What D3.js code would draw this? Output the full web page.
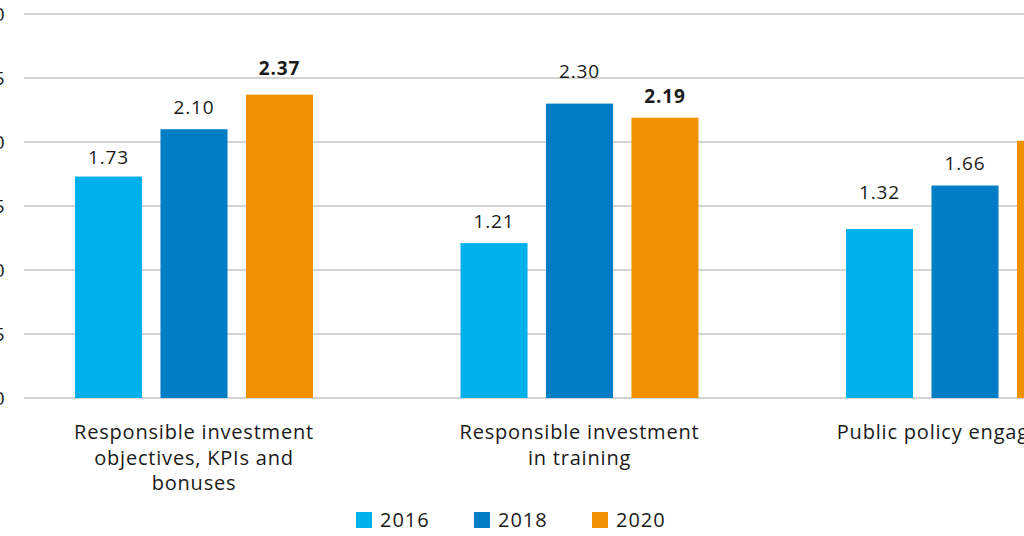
<!DOCTYPE html>
<html>
<head>
<meta charset="utf-8">
<style>
  html, body { margin: 0; padding: 0; background: #fff; }
  svg { display: block; }
  text { font-family: "Open Sans", sans-serif; fill: #1a1a1a; }
  .grid line { stroke: #c4c4c4; stroke-width: 1.5; }
</style>
<script src="https://cdn.jsdelivr.net/npm/d3@7"></script>
</head>
<body>
<div id="chart"></div>
<script>
  // data
  var categories = [
    ["Responsible investment", "objectives, KPIs and", "bonuses"],
    ["Responsible investment", "in training"],
    ["Public policy engagement"]
  ];
  var years = ["2016", "2018", "2020"];
  var values2016 = [1.73, 1.21, 1.32];
  var values2018 = [2.10, 2.30, 1.66];
  var values2020 = [2.37, 2.19, 2.01];
  var yTicks = [0, 0.5, 1, 1.5, 2, 2.5, 3];
  var colors = ["#00b0ea", "#007dc5", "#f29100"];

  // the labels above the bars are hand placed in the original, lift per year / category
  var labelLift = [[13, 15, 20], [15, 26, 15], [30, 16, 16]];

  var series = [values2016, values2018, values2020];
  var width = 1024, height = 536;

  var svg = d3.select('#chart').append('svg')
    .attr('width', width)
    .attr('height', height);

  var y = d3.scaleLinear().domain([0, 3]).range([398, 14]);

  var x0 = d3.scaleBand()
    .domain(d3.range(categories.length))
    .range([1.25, 1157.75]);

  var x1 = d3.scaleBand()
    .domain(years)
    .range([-119, 119])
    .paddingInner(0.216);

  var center = i => x0(i) + x0.bandwidth() / 2;

  // grid + y labels
  var grid = svg.append('g').attr('class', 'grid');
  grid.selectAll('line')
    .data(yTicks)
    .enter().append('line')
    .attr('x1', 24)
    .attr('x2', width)
    .attr('y1', d => y(d))
    .attr('y2', d => y(d));

  svg.append('g').selectAll('text')
    .data(yTicks)
    .enter().append('text')
    .attr('x', -22)
    .attr('y', d => y(d))
    .attr('dy', '0.35em')
    .style('font-size', '19px')
    .text(d => d3.format('.1f')(d));

  // bars
  var groups = svg.append('g').selectAll('g')
    .data(categories)
    .enter().append('g')
    .attr('transform', (d, i) => `translate(${center(i)},0)`);

  groups.each(function(cat, i) {
    var g = d3.select(this);
    var rows = years.map((yr, k) => ({year: yr, value: series[k][i], k: k}));

    g.selectAll('rect')
      .data(rows)
      .enter().append('rect')
      .attr('x', d => x1(d.year))
      .attr('width', x1.bandwidth())
      .attr('y', d => y(d.value))
      .attr('height', d => y(0) - y(d.value))
      .attr('fill', d => colors[d.k]);

    g.selectAll('text.val')
      .data(rows)
      .enter().append('text')
      .attr('class', 'val')
      .attr('x', d => x1(d.year) + x1.bandwidth() / 2)
      .attr('y', d => y(d.value) - labelLift[i][d.k])
      .attr('text-anchor', 'middle')
      .style('font-size', '19px')
      .style('letter-spacing', '0.9px')
      .style('font-weight', d => d.k === 2 ? 700 : 400)
      .text(d => d3.format('.2f')(d.value));

    var label = g.append('text')
      .attr('text-anchor', 'middle')
      .attr('y', 439)
      .style('font-size', '20px')
      .style('letter-spacing', '0.8px');
    label.selectAll('tspan')
      .data(cat)
      .enter().append('tspan')
      .attr('x', 0)
      .attr('dy', (d, j) => j === 0 ? 0 : 25.5)
      .text(d => d);
  });

  // legend
  var legend = svg.append('g').selectAll('g')
    .data(years)
    .enter().append('g')
    .attr('transform', (d, i) => `translate(${356 + i * 118},512)`);
  legend.append('rect')
    .attr('width', 16)
    .attr('height', 16)
    .attr('fill', (d, i) => colors[i]);
  legend.append('text')
    .attr('x', 24)
    .attr('y', 8)
    .attr('dy', '0.35em')
    .style('font-size', '20px')
    .style('letter-spacing', '1px')
    .text(d => d);
</script>
</body>
</html>
